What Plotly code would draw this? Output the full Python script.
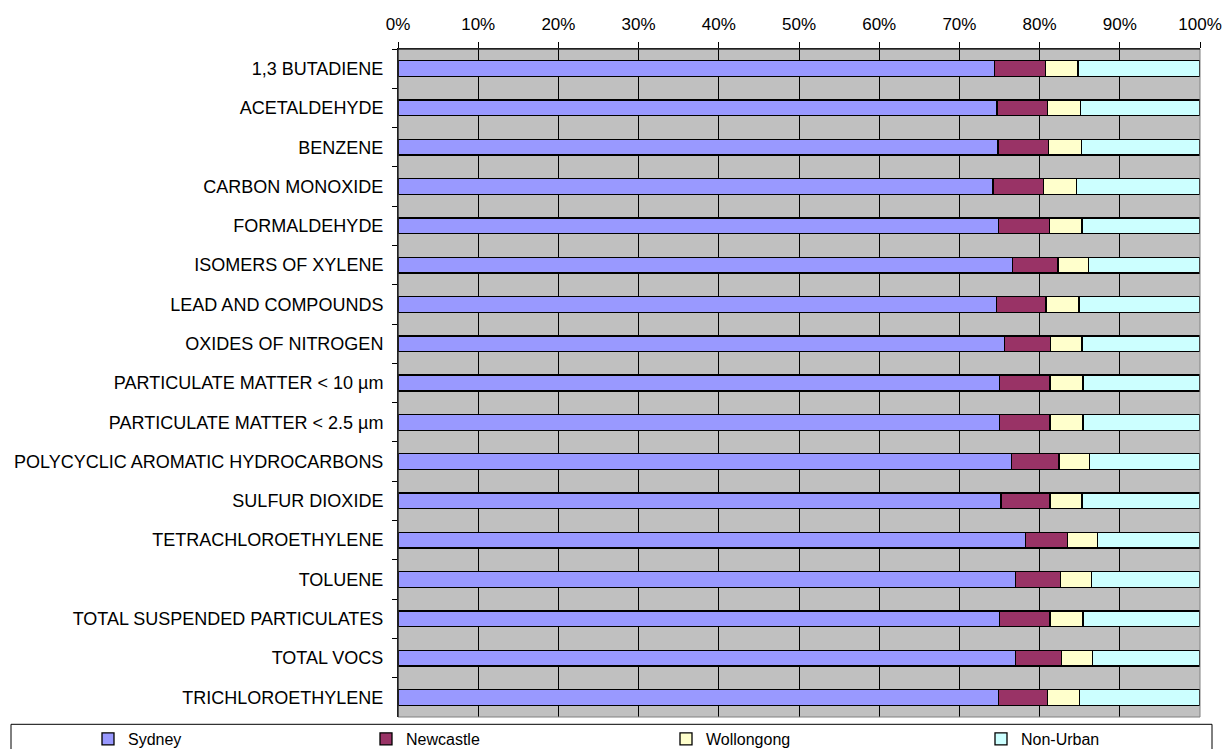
import plotly.graph_objects as go

categories = [
    "1,3 BUTADIENE", "ACETALDEHYDE", "BENZENE", "CARBON MONOXIDE", "FORMALDEHYDE",
    "ISOMERS OF XYLENE", "LEAD AND COMPOUNDS", "OXIDES OF NITROGEN",
    "PARTICULATE MATTER < 10 µm", "PARTICULATE MATTER < 2.5 µm",
    "POLYCYCLIC AROMATIC HYDROCARBONS", "SULFUR DIOXIDE", "TETRACHLOROETHYLENE",
    "TOLUENE", "TOTAL SUSPENDED PARTICULATES", "TOTAL VOCS", "TRICHLOROETHYLENE",
]
sydney = [74.4, 74.7, 74.8, 74.2, 74.9, 76.6, 74.6, 75.6, 75.0, 75.0, 76.5, 75.2, 78.2, 77.0, 75.0, 77.0, 74.9]
newcastle = [6.3, 6.3, 6.3, 6.3, 6.3, 5.7, 6.2, 5.8, 6.3, 6.3, 5.9, 6.1, 5.3, 5.6, 6.3, 5.7, 6.1]
wollongong = [4.1, 4.1, 4.1, 4.1, 4.1, 3.8, 4.1, 3.9, 4.1, 4.1, 3.8, 4.0, 3.7, 3.9, 4.1, 3.9, 4.0]
non_urban = [15.2, 14.9, 14.8, 15.4, 14.7, 13.9, 15.1, 14.7, 14.6, 14.6, 13.8, 14.7, 12.8, 13.5, 14.6, 13.4, 15.0]
series_names = ["Sydney", "Newcastle", "Wollongong", "Non-Urban"]
series_colors = ["#9999FF", "#993366", "#FFFFCC", "#CCFFFF"]
tick_vals = [0, 10, 20, 30, 40, 50, 60, 70, 80, 90, 100]
tick_labels = ["0%", "10%", "20%", "30%", "40%", "50%", "60%", "70%", "80%", "90%", "100%"]

FONT = "Liberation Sans, Arial, sans-serif"
W, H = 1227, 749
ML, MR, MT, MB = 398, 27, 49, 32
PW = W - ML - MR
PH = H - MT - MB

def px_x(p):
    return (p - ML) / PW

def px_y(p):
    return (H - MB - p) / PH

fig = go.Figure()
legend_names = ["legend", "legend2", "legend3", "legend4"]
for name, vals, color, lg in zip(series_names, [sydney, newcastle, wollongong, non_urban], series_colors, legend_names):
    fig.add_trace(go.Bar(
        y=categories, x=vals, name=name, orientation="h",
        marker=dict(color=color, line=dict(color="black", width=1.3)),
        legend=lg,
    ))

text_starts = [128, 406, 706, 1021]
legend_common = dict(orientation="h", xanchor="left", yanchor="middle",
                     bgcolor="rgba(0,0,0,0)", borderwidth=0,
                     font=dict(family=FONT, size=16, color="black"))
layout_legends = {}
for lg, ts in zip(legend_names, text_starts):
    layout_legends[lg] = dict(x=px_x(ts - 40), y=px_y(739), **legend_common)

fig.update_layout(
    width=W, height=H,
    margin=dict(l=ML, r=MR, t=MT, b=MB, autoexpand=False),
    barmode="stack", bargap=0.6,
    paper_bgcolor="white", plot_bgcolor="#C0C0C0",
    font=dict(family=FONT, size=16, color="black"),
    xaxis=dict(
        side="top", range=[0, 100], tickmode="array", tickvals=tick_vals, ticktext=tick_labels,
        showgrid=True, gridcolor="black", gridwidth=1,
        ticks="outside", ticklen=6, tickcolor="black",
        showline=True, linecolor="black", linewidth=1,
        tickfont=dict(family=FONT, size=17), zeroline=False,
        ticklabelstandoff=5,
    ),
    yaxis=dict(
        autorange="reversed", type="category",
        ticks="outside", ticklen=5, tickcolor="black", tickson="boundaries",
        showline=True, linecolor="black", linewidth=1, showgrid=False,
        tickfont=dict(family=FONT, size=18), ticklabelstandoff=10,
    ),
    shapes=[
        dict(type="rect", xref="paper", yref="paper", x0=0, x1=1, y0=0, y1=1,
             line=dict(color="#808080", width=1), layer="above"),
        dict(type="line", xref="paper", yref="paper", x0=0, x1=1, y0=1, y1=1,
             line=dict(color="black", width=1), layer="above"),
        dict(type="line", xref="paper", yref="paper", x0=0, x1=0, y0=0, y1=1,
             line=dict(color="black", width=1), layer="above"),
        dict(type="rect", xref="paper", yref="paper",
             x0=px_x(11), x1=px_x(1212), y0=px_y(752), y1=px_y(724.3),
             line=dict(color="black", width=1), fillcolor="rgba(0,0,0,0)"),
    ],
    showlegend=True,
    **layout_legends,
)

fig.write_html(
    "out.html",
    config={"displayModeBar": False},
    post_script="document.body.style.margin='0px';document.body.style.overflow='hidden';",
)
